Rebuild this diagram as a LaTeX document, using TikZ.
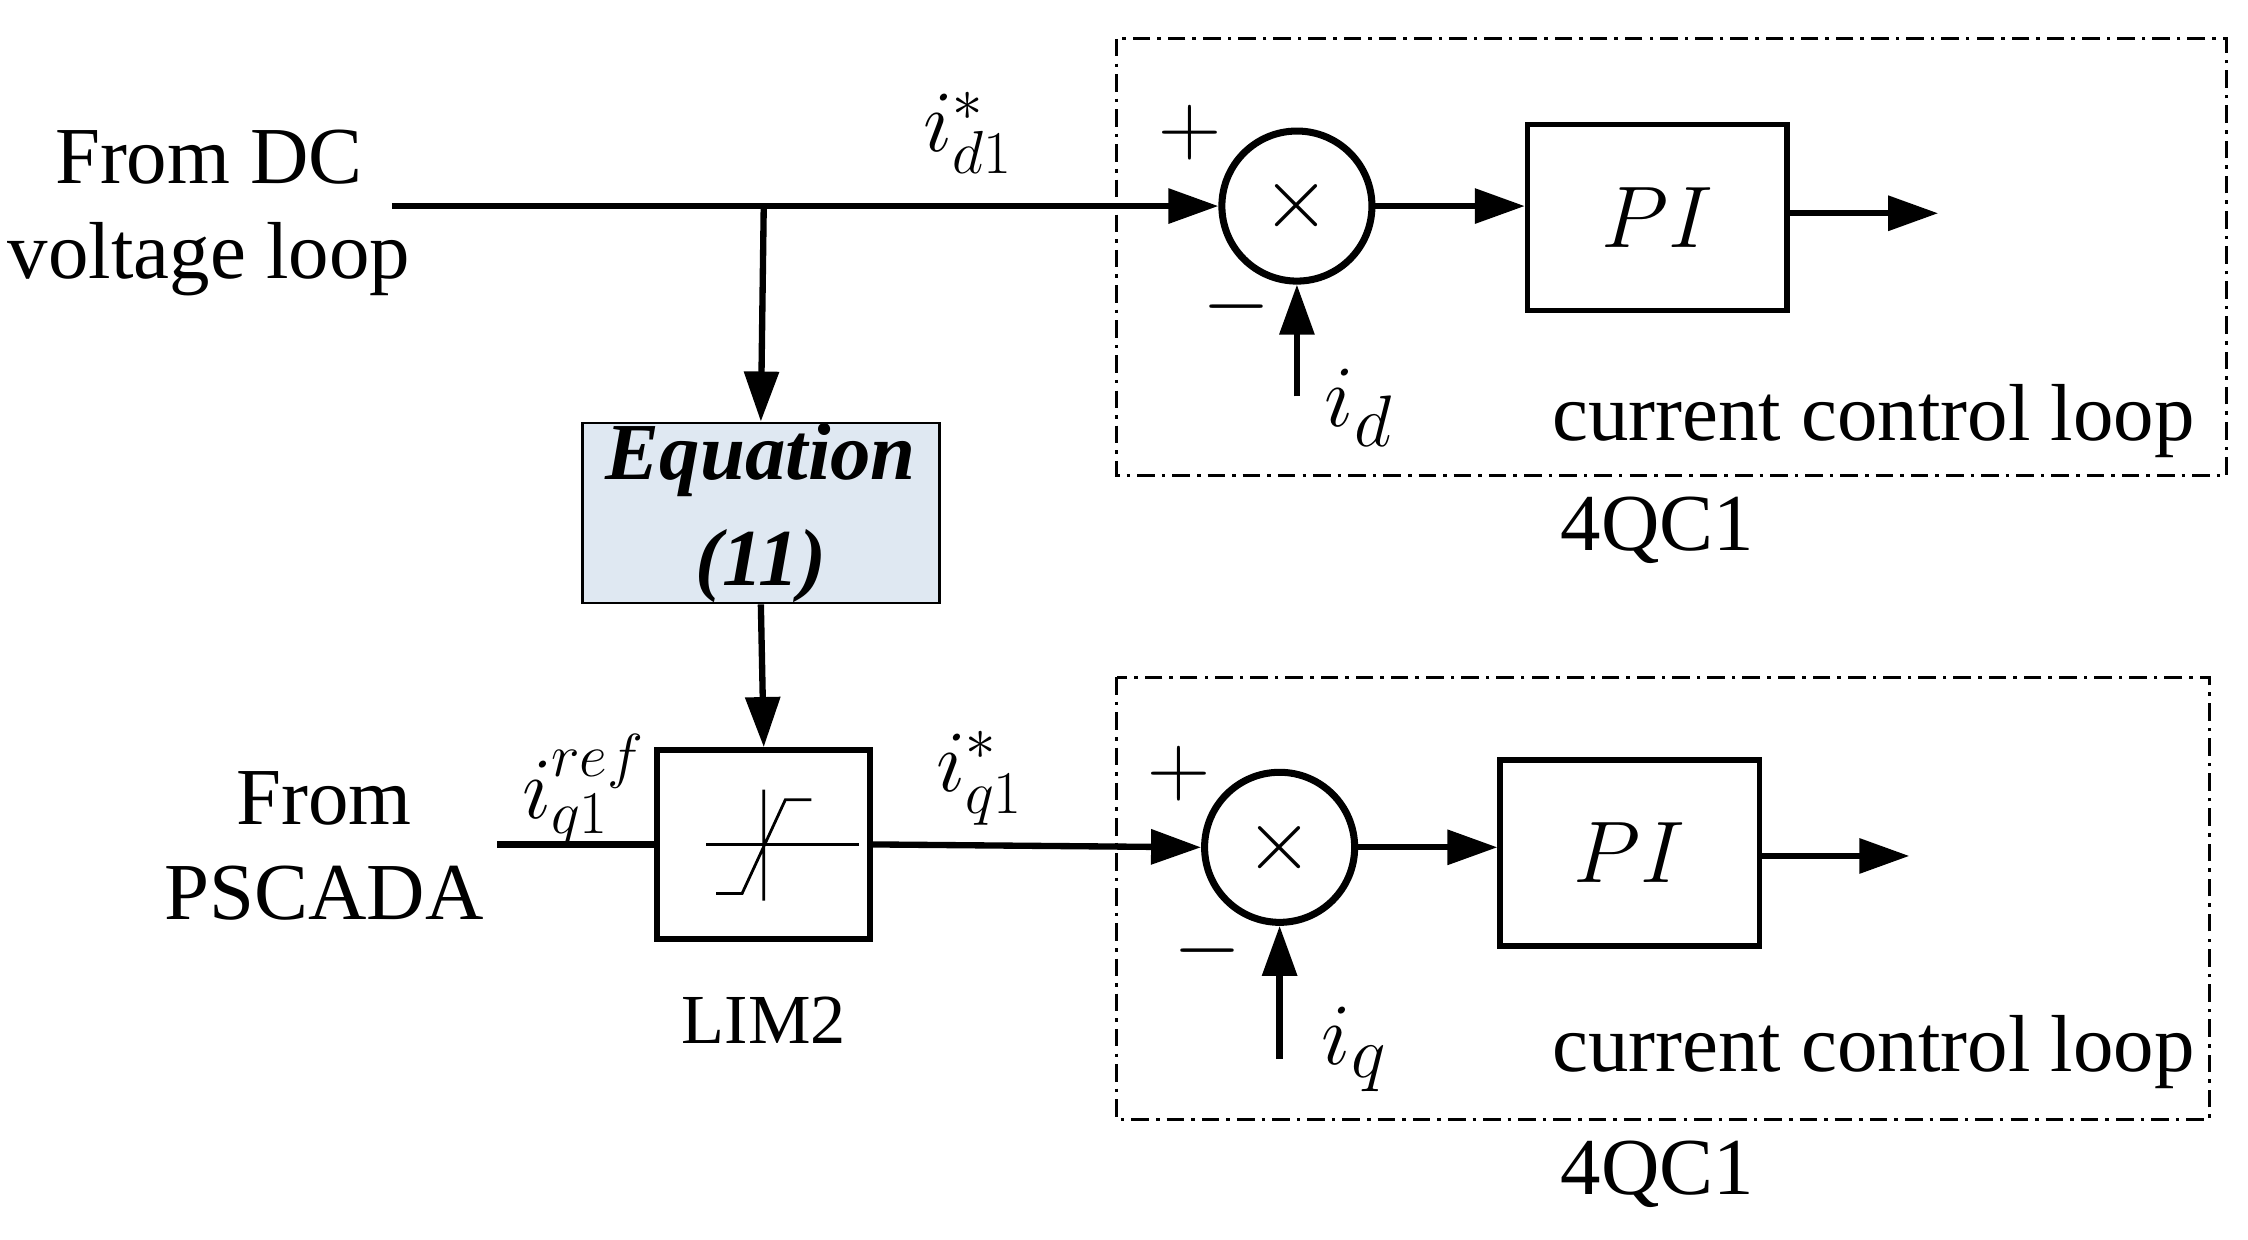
\documentclass[tikz,border=0pt]{standalone}
\usepackage{fontspec}
\setmainfont{Liberation Serif}
\usetikzlibrary{arrows.meta,calc}
\tikzset{
  blk/.style={draw,line width=1.6pt,minimum width=2.59cm,minimum height=1.86cm,inner sep=0pt},
  sum/.style={draw,circle,line width=2pt,minimum size=1.5cm,inner sep=0pt},
  sig/.style={line width=1.8pt,-{Triangle[length=0.5cm,width=0.34cm]}},
  wire/.style={line width=1.8pt},
  frame/.style={line width=0.8pt,dash pattern=on 5pt off 2pt on 1pt off 2pt},
  txt/.style={font=\fontsize{23}{27}\selectfont,align=center},
  lbl/.style={font=\fontsize{26}{30}\selectfont}
}
\begin{document}
\begin{tikzpicture}[x=0.01441cm,y=-0.01441cm]
		\useasboundingbox (0,0) rectangle (1560,860);
		% frames
		\draw[frame] (775,27) rectangle (1545,330);
		\draw[frame] (775,470) rectangle (1533,777);
		\node[txt] at (1300,292) {current control loop};
		\node[txt] at (1150,368) {4QC1};
		\node[txt] at (1300,730) {current control loop};
		\node[txt] at (1150,815) {4QC1};
%
		\node[txt] (dc) at (145,148) {From DC\\voltage loop};
		\node[txt] (ps) at (225,587) {From\\PSCADA};
		\coordinate (inD) at (272,143);
		\coordinate (brD) at (530,143);
		\coordinate (inQ) at (345,586);
		\node[sum] (S1) at (900,143) {\fontsize{40}{40}\selectfont$\times$};
		\node[sum] (S2) at (888,588) {\fontsize{40}{40}\selectfont$\times$};
		\node[blk] (PI1) at (1150,151) {\fontsize{26}{30}\selectfont$PI$};
		\node[blk] (PI2) at (1131,592) {\fontsize{26}{30}\selectfont$PI$};
		\node[blk,fill={rgb,255:red,223;green,232;blue,242},line width=0.8pt,minimum width=3.57cm,minimum height=1.8cm,
			font=\fontsize{23}{30}\selectfont\bfseries\itshape,align=center] (Eq) at (528,356) {Equation\\(11)};
		\node[blk,minimum width=2.13cm,minimum height=1.89cm] (Lim) at (530,586) {};
		\node[txt,font=\fontsize{20}{24}\selectfont] at (530,708) {LIM2};
		\coordinate (o1) at (1345,148);
		\coordinate (o2) at (1325,594);
		\coordinate (id) at (900,275);
		\coordinate (iq) at (888,735);
%
		\draw[sig] (inD) -- (S1.west);
		\draw[sig] (brD) -- (Eq.north);
		\draw[sig] (Eq.south) -- (Lim.north);
		\draw[wire] (inQ) -- (Lim.west);
		\draw[sig] (Lim.east) -- (S2.west);
		\draw[sig] (S1.east) -- (S1.east -| PI1.west);
		\draw[sig] (S2.east) -- (S2.east -| PI2.west);
		\draw[sig] (PI1.east |- o1) -- (o1);
		\draw[sig] (PI2.east |- o2) -- (o2);
		\draw[sig] (id) -- (S1.south);
		\draw[sig] (iq) -- (S2.south);
		% limiter symbol
		\draw[line width=0.8pt] (490,586) -- (596,586) (530,548) -- (530,625)
			(497,620) -- (515,620) -- (545,555) -- (563,555);
%
		\node[lbl] at (672,92) {$i^{*}_{d1}$};
		\node[lbl] at (680,540) {$i^{*}_{q1}$};
		\node[lbl] at (405,548) {$i^{ref}_{q1}$};
		\node[lbl,font=\fontsize{32}{36}\selectfont] at (943,283) {$i_{d}$};
		\node[lbl,font=\fontsize{32}{36}\selectfont] at (940,728) {$i_{q}$};
		\node[lbl,font=\fontsize{32}{36}\selectfont] at (826,92) {$+$};
		\node[lbl,font=\fontsize{32}{36}\selectfont] at (858,213) {$-$};
		\node[lbl,font=\fontsize{32}{36}\selectfont] at (818,537) {$+$};
		\node[lbl,font=\fontsize{32}{36}\selectfont] at (838,660) {$-$};
	\end{tikzpicture}
\end{document}
